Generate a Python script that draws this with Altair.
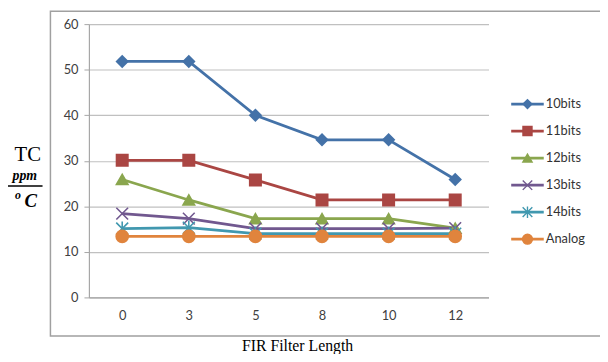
import altair as alt
import pandas as pd

lengths = ["0", "3", "5", "8", "10", "12"]
series = ["10bits", "11bits", "12bits", "13bits", "14bits", "Analog"]
tc_10bits = [51.8, 51.8, 40.0, 34.6, 34.6, 25.9]
tc_11bits = [30.1, 30.1, 25.8, 21.4, 21.4, 21.4]
tc_12bits = [25.9, 21.4, 17.3, 17.3, 17.3, 15.2]
tc_13bits = [18.4, 17.3, 15.1, 15.1, 15.1, 15.2]
tc_14bits = [15.1, 15.3, 14.0, 14.0, 14.0, 14.0]
tc_analog = [13.4, 13.4, 13.4, 13.4, 13.4, 13.4]

colors = ["#4472A8", "#AA4643", "#8AA64E", "#71588F", "#4198AF", "#E0843D"]
shapes = [
    "diamond", "square", "triangle-up",
    "M-1,-1L1,1M-1,1L1,-1",
    "M-1,-1L1,1M-1,1L1,-1M0,-1.2L0,1.2",
    "circle",
]
sizes_plot = [130, 150, 120, 110, 110, 170]
sizes_leg = [80, 100, 80, 80, 80, 110]

all_vals = [tc_10bits, tc_11bits, tc_12bits, tc_13bits, tc_14bits, tc_analog]
rows = []
for s, vals in zip(series, all_vals):
    for L, v in zip(lengths, vals):
        rows.append({"series": s, "len": L, "tc": v})
df = pd.DataFrame(rows)
leg_df = pd.DataFrame({"series": series})

W, H = 405, 277

cscale = alt.Scale(domain=series, range=colors)
sscale = alt.Scale(domain=series, range=shapes)

x_enc = alt.X(
    "len:O", sort=lengths,
    scale=alt.Scale(type="point", padding=0.5),
    axis=alt.Axis(
        title="FIR Filter Length", labelAngle=0, ticks=False, grid=False,
        labelPadding=12, labelFont="Lato", labelFontSize=13, labelColor="#404040",
        domainColor="#a6a6a6", domainWidth=1.2,
        titleFont="Liberation Serif", titleFontSize=16, titleFontWeight="normal",
        titleColor="#000000", titleX=211, titleY=49, titleBaseline="middle",
    ),
)
y_enc = alt.Y(
    "tc:Q",
    scale=alt.Scale(domain=[0, 60], nice=False, zero=True),
    axis=alt.Axis(
        title=None, values=[0, 10, 20, 30, 40, 50, 60], grid=True,
        gridColor="#c0c0c0", gridWidth=1.2, tickSize=5, tickColor="#a6a6a6",
        labelPadding=6, labelFont="Lato", labelFontSize=13, labelColor="#404040",
        domainColor="#a6a6a6", domainWidth=1.2,
    ),
)

lines = alt.Chart(df).mark_line(strokeWidth=2.8).encode(
    x=x_enc, y=y_enc,
    color=alt.Color("series:N", scale=cscale, legend=None),
    detail="series:N",
)
points = alt.Chart(df).mark_point(filled=True, opacity=1, strokeWidth=1.6).encode(
    x=x_enc, y=y_enc,
    fill=alt.Fill("series:N", scale=cscale, legend=None),
    stroke=alt.Stroke("series:N", scale=cscale, legend=None),
    shape=alt.Shape("series:N", scale=sscale, legend=None),
    size=alt.Size("series:N", scale=alt.Scale(domain=series, range=sizes_plot), legend=None),
)
main = alt.layer(lines, points)

ly = alt.Y("series:N", sort=series,
           scale=alt.Scale(type="point", domain=series, range=[81, 218], padding=0),
           axis=None)
leg_rule = alt.Chart(leg_df).mark_rule(strokeWidth=2.8).encode(
    x=alt.value(428), x2=alt.value(461), y=ly,
    color=alt.Color("series:N", scale=cscale, legend=None),
)
leg_pts = alt.Chart(leg_df).mark_point(filled=True, opacity=1, strokeWidth=1.4).encode(
    x=alt.value(444.5), y=ly,
    fill=alt.Fill("series:N", scale=cscale, legend=None),
    stroke=alt.Stroke("series:N", scale=cscale, legend=None),
    shape=alt.Shape("series:N", scale=sscale, legend=None),
    size=alt.Size("series:N", scale=alt.Scale(domain=series, range=sizes_leg), legend=None),
)
leg_txt = alt.Chart(leg_df).mark_text(
    align="left", baseline="middle", font="Lato", fontSize=13, color="#333333"
).encode(x=alt.value(463), y=ly, text="series:N")
legend = alt.layer(leg_rule, leg_pts, leg_txt).resolve_scale(size="independent")

one = pd.DataFrame({"a": [0]})
border = alt.Chart(one).mark_rect(fillOpacity=0, stroke="#a0a0a0", strokeWidth=1.5).encode(
    x=alt.value(-39), x2=alt.value(760), y=alt.value(-13), y2=alt.value(316)
)

def label(txt, x, y, size, weight="normal", style="normal"):
    return alt.Chart(one).mark_text(
        text=txt, font="Liberation Serif", fontSize=size, fontWeight=weight,
        fontStyle=style, align="center", baseline="middle", color="#000000"
    ).encode(x=alt.value(x), y=alt.value(y))

tc = label("TC", -62, 133, 21)
ppm = label("ppm", -65, 154, 14, "bold", "italic")
bar = alt.Chart(one).mark_rule(stroke="#000000", strokeWidth=1.5).encode(
    x=alt.value(-82), x2=alt.value(-47), y=alt.value(164)
)
o_sup = label("o", -72, 173, 12, "bold", "italic")
c_lab = label("C", -59, 179, 19, "bold", "italic")

chart = alt.layer(
    border, main, legend, tc, ppm, bar, o_sup, c_lab
).resolve_scale(y="independent", size="independent").properties(
    width=W, height=H,
    autosize="none",
    padding={"left": 82, "top": 14, "right": 113, "bottom": 55},
).configure_view(stroke=None)

chart.save("out.html", embed_options={"renderer": "svg", "actions": False})
